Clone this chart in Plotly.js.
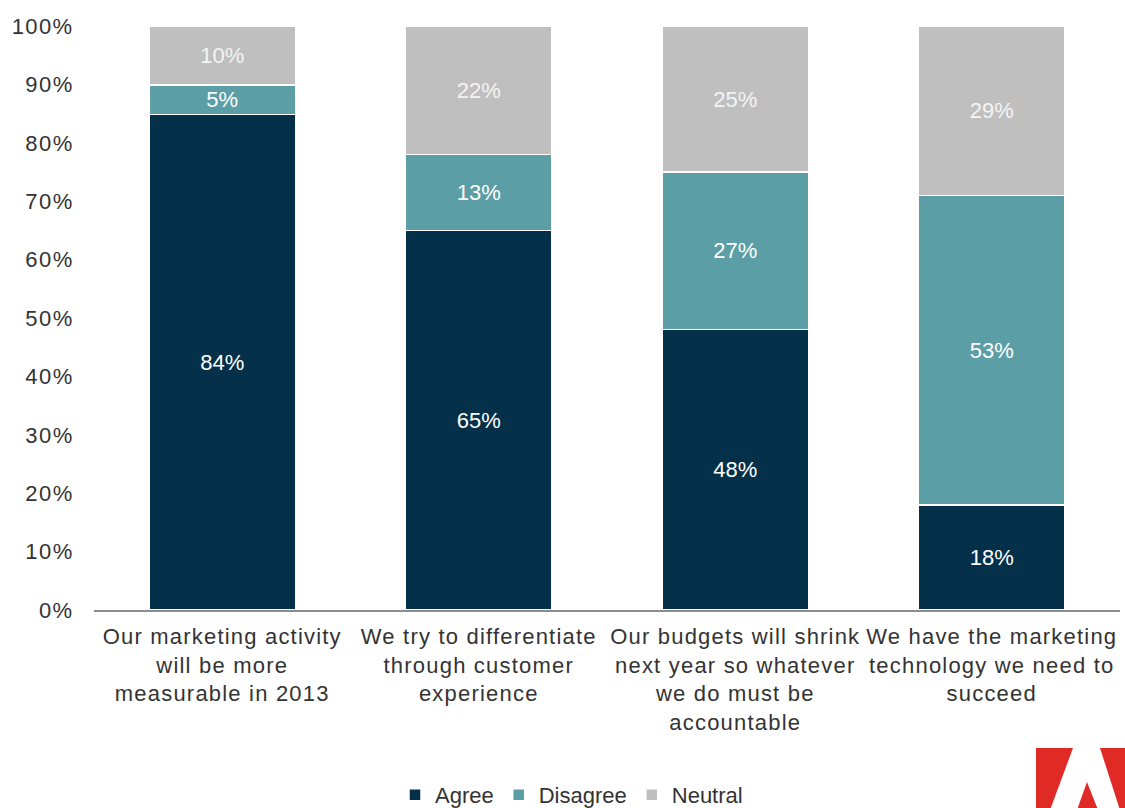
<!DOCTYPE html>
<html>
<head>
<meta charset="utf-8">
<script src="https://cdn.plot.ly/plotly-3.0.1.min.js"></script>
<style>
html,body{margin:0;padding:0;background:#fff;}
#chart{width:1125px;height:808px;}
#chart .xtick text{letter-spacing:1.2px;}
#chart .ytick text{letter-spacing:1.4px;}
</style>
</head>
<body>
<div id="chart"></div>
<script>
const categories = [
  "Our marketing activity<br>will be more<br>measurable in 2013",
  "We try to differentiate<br>through customer<br>experience",
  "Our budgets will shrink<br>next year so whatever<br>we do must be<br>accountable",
  "We have the marketing<br>technology we need to<br>succeed"
];
const agree = [84, 65, 48, 18];
const disagree = [5, 13, 27, 53];
const neutral = [10, 22, 25, 29];
const yTicks = [0, 10, 20, 30, 40, 50, 60, 70, 80, 90, 100];

const W = 1125, H = 808;
const L = 94, R = 5, T = 26, B = 198;
const pw = W - L - R, ph = H - T - B;
function px(X) { return (X - L) / pw; }
function py(Y) { return (H - B - Y) / ph; }
function path(pts) {
  return 'M' + pts.map(p => px(p[0]).toFixed(4) + ',' + py(p[1]).toFixed(4)).join(' L') + ' Z';
}

const font = "Liberation Sans, Arial, sans-serif";
const FS = 22;
function trace(name, vals, color, tcolor) {
  return {
    type: 'bar', name: name, x: categories, y: vals,
    text: vals.map(v => v + '%'), textposition: 'inside', insidetextanchor: 'middle',
    textangle: 0, constraintext: 'none',
    textfont: {family: font, size: FS, color: tcolor},
    marker: {color: color, line: {color: '#ffffff', width: 1.5}},
    hoverinfo: 'none'
  };
}
const data = [
  trace('Agree', agree, '#04304a', '#ffffff'),
  trace('Disagree', disagree, '#5b9ea6', '#ffffff'),
  trace('Neutral', neutral, '#bfbfbf', '#f4f4f4')
];
const layout = {
  width: W, height: H,
  margin: {l: L, r: R, t: T, b: B, pad: 0, autoexpand: false},
  barmode: 'stack', barnorm: 'percent', bargap: 0.43,
  paper_bgcolor: '#ffffff', plot_bgcolor: '#ffffff',
  font: {family: font, size: FS, color: '#333333'},
  showlegend: true,
  legend: {orientation: 'h', xref: 'container', yref: 'container',
           x: 0.508, xanchor: 'center', y: 0.016, yanchor: 'middle',
           font: {family: font, size: FS, color: '#333333'}, traceorder: 'normal', itemwidth: 30},
  xaxis: {
    type: 'category', showgrid: false, zeroline: false, automargin: false,
    showline: true, linecolor: '#8c8c8c', linewidth: 1.5,
    ticks: 'outside', ticklen: 6, tickcolor: 'rgba(0,0,0,0)',
    tickfont: {family: font, size: FS, color: '#333333'}, fixedrange: true
  },
  yaxis: {
    range: [0, 100], tickvals: yTicks, ticktext: yTicks.map(v => v + '%'), automargin: false,
    showgrid: false, zeroline: false, showline: false,
    ticks: 'outside', ticklen: 15, tickcolor: 'rgba(0,0,0,0)',
    tickfont: {family: font, size: FS, color: '#333333'}, fixedrange: true
  },
  shapes: [
    {type: 'path', xref: 'paper', yref: 'paper', fillcolor: '#e02a26', line: {width: 0},
     path: path([[1036,748],[1073,748],[1050,810],[1036,810]])},
    {type: 'path', xref: 'paper', yref: 'paper', fillcolor: '#e02a26', line: {width: 0},
     path: path([[1100,748],[1127,748],[1127,810],[1120,810]])},
    {type: 'path', xref: 'paper', yref: 'paper', fillcolor: '#e02a26', line: {width: 0},
     path: path([[1087,782],[1098,810],[1077,810]])}
  ]
};
Plotly.newPlot('chart', data, layout, {displayModeBar: false, staticPlot: true});
</script>
</body>
</html>
